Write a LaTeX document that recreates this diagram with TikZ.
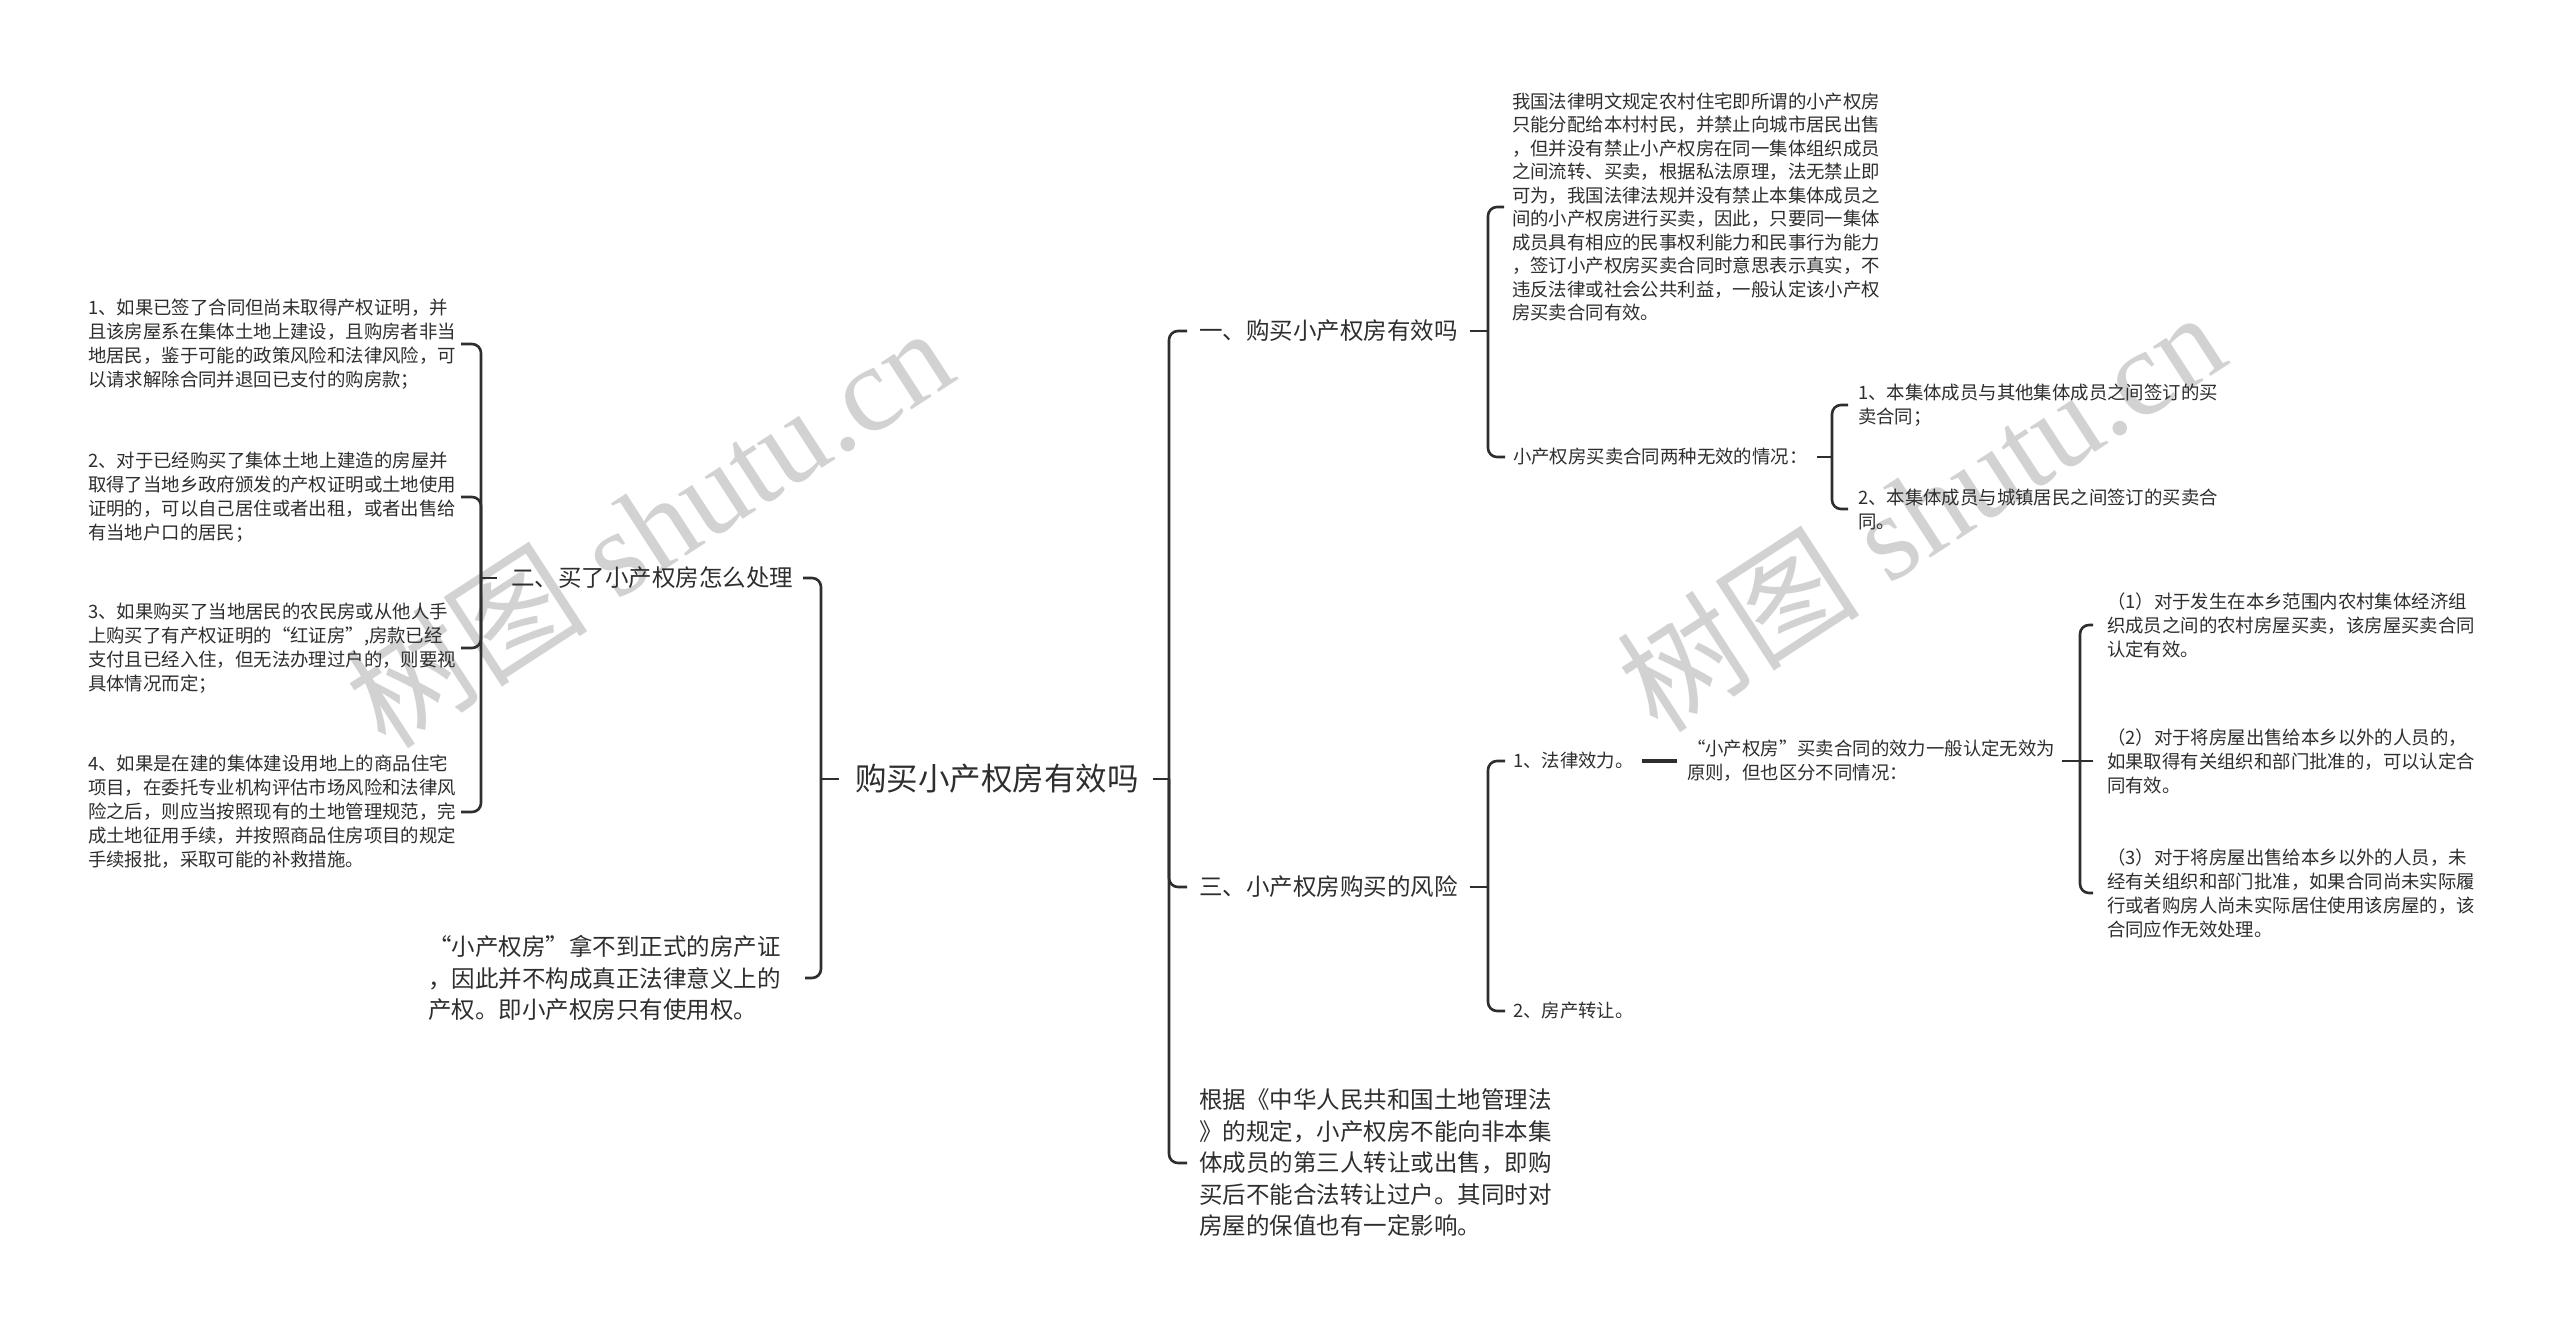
\documentclass[tikz,border=0pt]{standalone}
\usepackage{fontspec}
\setmainfont{Noto Sans CJK SC}
\newfontfamily\wmserif{Liberation Serif}
\definecolor{ink}{HTML}{2E2E2E}
\definecolor{wmgray}{HTML}{D2D2D2}
\begin{document}
\begin{tikzpicture}[x=1bp,y=-1bp,
  every node/.style={inner sep=0pt, outer sep=0pt, text=ink},
  lv0/.style={font=\fontsize{31.5bp}{38bp}\selectfont},
  lv1/.style={font=\fontsize{23.5bp}{31.5bp}\selectfont, align=left},
  lv2/.style={font=\fontsize{18.4bp}{24bp}\selectfont, align=left},
  lv2p/.style={font=\fontsize{18.4bp}{23.5bp}\selectfont, align=left},
  conn/.style={draw=ink, line width=2.6bp, rounded corners=9bp},
  stub/.style={draw=ink, line width=2.6bp},
  wm/.style={text=wmgray, rotate=33, font=\fontsize{122bp}{122bp}\selectfont}
]
\useasboundingbox (0,0) rectangle (2560,1331);
\fill[white] (0,0) rectangle (2560,1331);

% watermarks
\node[wm] (wm1) at (648,526) {树图{\wmserif\ shutu.cn}};
\node[wm] (wm2) at (1920,510) {树图{\wmserif\ shutu.cn}};

% root
\node[lv0, anchor=west] (root) at (855,779) {购买小产权房有效吗};

% left side
\node[lv1, anchor=east] (n2) at (793,578) {二、买了小产权房怎么处理};
\node[lv1, anchor=west, text width=367bp] (nb) at (428,978) {“小产权房”拿不到正式的房产证\\，因此并不构成真正法律意义上的\\产权。即小产权房只有使用权。};

\node[lv2, anchor=west, text width=365bp] (i1) at (88,344) {1、如果已签了合同但尚未取得产权证明，并\\且该房屋系在集体土地上建设，且购房者非当\\地居民，鉴于可能的政策风险和法律风险，可\\以请求解除合同并退回已支付的购房款；};
\node[lv2, anchor=west, text width=365bp] (i2) at (88,497) {2、对于已经购买了集体土地上建造的房屋并\\取得了当地乡政府颁发的产权证明或土地使用\\证明的，可以自己居住或者出租，或者出售给\\有当地户口的居民；};
\node[lv2, anchor=west, text width=365bp] (i3) at (88,648) {3、如果购买了当地居民的农民房或从他人手\\上购买了有产权证明的“红证房”,房款已经\\支付且已经入住，但无法办理过户的，则要视\\具体情况而定；};
\node[lv2, anchor=west, text width=365bp] (i4) at (88,812) {4、如果是在建的集体建设用地上的商品住宅\\项目，在委托专业机构评估市场风险和法律风\\险之后，则应当按照现有的土地管理规范，完\\成土地征用手续，并按照商品住房项目的规定\\手续报批，采取可能的补救措施。};

% right side level 1
\node[lv1, anchor=west] (n1) at (1199,331) {一、购买小产权房有效吗};
\node[lv1, anchor=west] (n3) at (1199,887) {三、小产权房购买的风险};
\node[lv1, anchor=west, text width=355bp] (n4) at (1199,1163) {根据《中华人民共和国土地管理法\\》的规定，小产权房不能向非本集\\体成员的第三人转让或出售，即购\\买后不能合法转让过户。其同时对\\房屋的保值也有一定影响。};

% group one
\node[lv2p, anchor=west, text width=370bp] (p1) at (1512,207) {我国法律明文规定农村住宅即所谓的小产权房\\只能分配给本村村民，并禁止向城市居民出售\\，但并没有禁止小产权房在同一集体组织成员\\之间流转、买卖，根据私法原理，法无禁止即\\可为，我国法律法规并没有禁止本集体成员之\\间的小产权房进行买卖，因此，只要同一集体\\成员具有相应的民事权利能力和民事行为能力\\，签订小产权房买卖合同时意思表示真实，不\\违反法律或社会公共利益，一般认定该小产权\\房买卖合同有效。};
\node[lv2, anchor=west] (p2) at (1513,457) {小产权房买卖合同两种无效的情况：};
\node[lv2, anchor=west, text width=370bp] (q1) at (1858,405) {1、本集体成员与其他集体成员之间签订的买\\卖合同；};
\node[lv2, anchor=west, text width=370bp] (q2) at (1858,509) {2、本集体成员与城镇居民之间签订的买卖合\\同。};

% group three
\node[lv2, anchor=west] (r1) at (1513,761) {1、法律效力。};
\node[lv2, anchor=west] (r2) at (1513,1011) {2、房产转让。};
\node[lv2, anchor=west, text width=370bp] (s) at (1687,761) {“小产权房”买卖合同的效力一般认定无效为\\原则，但也区分不同情况：};
\node[lv2, anchor=west, text width=370bp] (t1) at (2107,625) {（1）对于发生在本乡范围内农村集体经济组\\织成员之间的农村房屋买卖，该房屋买卖合同\\认定有效。};
\node[lv2, anchor=west, text width=370bp] (t2) at (2107,761) {（2）对于将房屋出售给本乡以外的人员的，\\如果取得有关组织和部门批准的，可以认定合\\同有效。};
\node[lv2, anchor=west, text width=370bp] (t3) at (2107,893) {（3）对于将房屋出售给本乡以外的人员，未\\经有关组织和部门批准，如果合同尚未实际履\\行或者购房人尚未实际居住使用该房屋的，该\\合同应作无效处理。};

% junctions
\coordinate (bl) at (821,779);
\coordinate (br) at (1169,779);
\coordinate (b2) at (481,578);
\coordinate (b1) at (1488,331);
\coordinate (bq) at (1832,457);
\coordinate (b3) at (1488,887);
\coordinate (bs) at (2080,761);

% root connectors
\draw[stub, shorten <=16bp] (root.west) -- (bl);
\draw[conn, shorten >=10bp] (bl) |- (n2.east);
\draw[conn, shorten >=10bp] (bl) |- (nb.east);
\draw[stub, shorten <=14bp] (root.east) -- (br);
\draw[conn, shorten >=12bp] (br) |- (n1.west);
\draw[conn, shorten >=12bp] (br) |- (n3.west);
\draw[conn, shorten >=12bp] (br) |- (n4.west);

% group two
\draw[stub, shorten <=14bp] (n2.west) -- (b2);
\draw[conn, shorten >=8bp] (b2) |- (i1.east);
\draw[conn, shorten >=8bp] (b2) |- (i2.east);
\draw[conn, shorten >=8bp] (b2) |- (i3.east);
\draw[conn, shorten >=8bp] (b2) |- (i4.east);

% group one
\draw[stub, shorten <=12bp] (n1.east) -- (b1);
\draw[conn, shorten >=8bp] (b1) |- (p1.west);
\draw[conn, shorten >=8bp] (b1) |- (p2.west);
\draw[stub, shorten <=10bp] (p2.east) -- (bq);
\draw[conn, shorten >=10bp] (bq) |- (q1.west);
\draw[conn, shorten >=10bp] (bq) |- (q2.west);

% group three
\draw[stub, shorten <=12bp] (n3.east) -- (b3);
\draw[conn, shorten >=8bp] (b3) |- (r1.west);
\draw[conn, shorten >=8bp] (b3) |- (r2.west);
\draw[stub, line width=3.4bp, shorten <=8bp, shorten >=10bp] (r1.east) -- (s.west);
\draw[stub, shorten <=5bp] (s.east) -- (bs);
\draw[conn, shorten >=14bp] (bs) |- (t1.west);
\draw[stub, shorten >=14bp] (bs) -- (t2.west);
\draw[conn, shorten >=14bp] (bs) |- (t3.west);
\end{tikzpicture}
\end{document}
